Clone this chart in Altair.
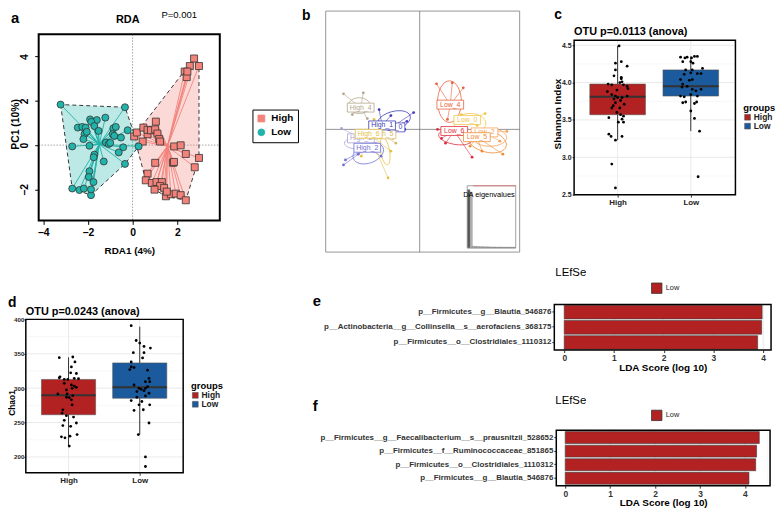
import math
import altair as alt
import pandas as pd

FONT = "Liberation Sans"
W, H = 776, 504


def P(v):
    """page pixel -> chart pixel (page has an 8px margin)"""
    return v - 8


ONE = pd.DataFrame({"k": [0]})
ZERO = pd.DataFrame({"v": [0.0]})

# ===================== DATA =====================
# --- panel a : RDA ---
a_groups = ["High", "Low"]
a_high_x = [2.75, 2.56, 2.97, 2.33, 2.42, 2.45, 0.07, 0.19, 0.48, 0.67, 0.67, 0.82, 1.01, 1.04, 1.11, 1.19, 1.23,
            0.45, 1.86, 2.15, 2.38, 2.97, 2.78, 1.01, 1.81, 1.85, 0.67, 0.59, 0.86, 1.07, 1.31, 1.23, 0.98, 1.41,
            1.49, 1.71, 1.93, 2.15, 2.38, 1.53]
a_high_y = [3.91, 3.57, 3.57, 3.32, 3.07, 3.32, 0.39, 0.57, 0.79, 0.49, 0.69, 0.67, 0.71, 1.06, 0.52, 0.27, 0.16,
            0.16, -0.06, -0.01, -0.40, -0.58, -1.00, -0.80, -0.80, -0.76, -1.29, -1.59, -1.71, -1.67, -1.67, -1.85,
            -2.01, -1.93, -2.31, -2.22, -2.19, -2.26, -2.49, -2.10]
a_low_x = [-3.22, -0.34, -0.22, 0.27, -0.34, -1.86, -2.38, -2.70, -2.18, -2.70, -2.45, -2.25, -2.10, -1.90, -1.60,
           -1.85, -1.22, -0.86, -0.75, -2.15, -2.20, -1.71, -1.52, -1.93, -1.71, -1.74, -1.29, -1.19, -1.07, -0.89,
           -0.82, -0.52, -0.42, -0.62, -1.93, -1.96, -1.75, -1.86, -1.00, -2.05]
a_low_y = [1.83, 1.71, 0.67, -0.06, -0.85, -2.26, -2.03, -1.96, -1.96, -0.06, 0.79, 0.82, 0.79, 1.16, 1.13, 1.05,
           1.24, 0.76, 0.82, 0.49, 0.27, 0.86, 0.64, -0.03, -0.43, -0.55, -0.74, 0.12, 0.05, 0.49, 0.42, 0.34,
           -0.10, -0.33, -1.18, -1.44, -1.67, -2.00, 0.10, 0.60]
a_cent_x = [1.56, -1.49]
a_cent_y = [-0.05, 0.04]
a_ticks_x = [-4, -2, 0, 2]
a_ticks_y = [-2, 0, 2, 4]

# --- panel b : DAPC scatter ---
b_groups = ["High_0", "High_1", "High_2", "High_3", "High_4", "High_5", "High_6",
            "Low_0", "Low_2", "Low_4", "Low_5", "Low_6"]
b_colors = ["#4a3fc0", "#3b3bb5", "#6f6fd6", "#aaa4dc", "#b3a68d", "#d6b868", "#e6c045",
            "#f0c64a", "#f5a35c", "#e8603b", "#ef8a33", "#e12d3b"]
b_lab_x = [-1.41, -1.88, -2.62, -2.94, -2.95, -1.86, -2.55, 2.38, 3.24, 1.53, 2.86, 1.73]
b_lab_y = [0.10, 0.20, -0.92, -0.45, 1.09, -0.25, -0.22, 0.47, -0.15, 1.24, -0.39, -0.08]
b_front = ["High_4", "High_1", "High_6", "High_2", "Low_4", "Low_6", "Low_5"]
b_pt_x = [
    [-0.30, -0.74, -0.64],
    [-2.03, -1.44, -2.28],
    [-3.81, -3.71, -1.93, -2.28, -3.07],
    [-3.91, -3.56, -2.18],
    [-3.81, -2.82, -2.62, -3.37],
    [-1.19, -2.18, -1.34],
    [-1.58, -2.92, -2.28, -1.44],
    [3.27, 2.87, 2.08],
    [4.36, 4.01],
    [0.84, 1.63, 2.18, 1.39],
    [4.16, 3.76, 3.12, 2.52],
    [1.09, 1.29, 2.62, 0.89],
]
b_pt_y = [
    [0.84, 0.00, 0.40],
    [0.99, 0.69, 0.00],
    [-1.78, -1.53, -1.34, -1.09, -1.24],
    [0.05, -0.59, -0.74],
    [1.78, 1.83, 0.54, 0.74],
    [-0.69, 0.35, -0.45],
    [-2.43, -1.34, 0.50, -1.09],
    [0.79, 0.20, 0.74],
    [-0.10, -0.59],
    [2.28, 2.33, 2.08, 0.50],
    [-1.24, 0.00, -1.09, -0.84],
    [-0.45, -0.69, -1.39, 0.00],
]
b_ell_groups = ["High_4", "High_1", "High_2", "High_3", "High_6", "High_5", "Low_4", "Low_0", "Low_5", "Low_6", "Low_2"]
b_ell_x = [-3.02, -1.29, -2.57, -3.07, -1.73, -1.93, 1.49, 2.52, 3.37, 1.78, 3.51]
b_ell_y = [1.19, 0.45, -1.19, -0.69, -1.09, 0.00, 1.39, 0.30, -0.59, -0.40, -0.40]
b_eig = [100, 96, 2.2, 2.0, 1.8, 1.6, 1.5, 1.4, 1.3, 1.2, 1.1, 1.0, 0.9, 0.9, 0.8, 0.8, 0.7, 0.7, 0.6, 0.6]

# --- panel c : Shannon ---
c_groups = ["High", "Low"]
c_q1 = [3.57, 3.82]
c_med = [3.81, 3.95]
c_q3 = [3.98, 4.17]
c_wlo = [3.23, 3.35]
c_whi = [4.49, 4.35]
c_high = [4.49, 4.26, 4.28, 4.22, 4.17, 4.09, 4.07, 4.05, 4.01, 4.00, 3.98, 3.97, 3.97, 3.95, 3.92, 3.88, 3.90,
          3.84, 3.82, 3.80, 3.78, 3.80, 3.82, 3.76, 3.73, 3.71, 3.69, 3.66, 3.66, 3.60, 3.57, 3.55, 3.53, 3.51,
          3.47, 3.47, 3.31, 3.28, 3.28, 3.23, 2.91, 2.59]
c_high_jit = [0.02, -0.03, 0.05, 0.13, -0.03, -0.05, 0.05, 0.05, 0.06, 0.03, -0.13, -0.08, 0.08, 0.13, 0.14, -0.14,
              -0.01, -0.08, -0.03, 0.00, -0.05, 0.06, 0.13, 0.04, -0.03, 0.09, -0.06, -0.08, 0.03, -0.01, 0.04,
              0.08, -0.12, 0.06, 0.08, 0.01, -0.12, -0.09, 0.06, -0.03, -0.08, -0.03]
c_low = [4.34, 4.33, 4.34, 4.33, 4.35, 4.35, 4.28, 4.28, 4.26, 4.17, 4.17, 4.19, 4.11, 4.13, 4.12, 4.12, 4.04, 4.03,
         4.04, 3.98, 3.94, 3.95, 3.91, 3.91, 3.89, 3.82, 3.81, 3.84, 3.82, 3.73, 3.74, 3.74, 3.72, 3.62, 3.52, 3.35,
         2.74]
c_low_jit = [-0.14, -0.08, -0.05, 0.01, 0.05, 0.09, -0.11, 0.00, 0.03, -0.07, 0.02, 0.16, -0.09, 0.00, 0.09, 0.14,
             -0.14, -0.02, 0.02, -0.11, -0.12, -0.05, 0.02, 0.14, 0.07, -0.14, -0.09, 0.00, 0.09, -0.11, -0.07,
             0.08, 0.05, 0.00, 0.05, 0.12, 0.10]
c_ticks = [2.5, 3.0, 3.5, 4.0, 4.5]
c_minor = [2.75, 3.25, 3.75, 4.25]

# --- panel d : Chao1 ---
d_groups = ["High", "Low"]
d_q1 = [261.4, 285.4]
d_med = [289.7, 301.2]
d_q3 = [312.7, 336.7]
d_wlo = [215.8, 232.6]
d_whi = [344.9, 389.4]
d_high = [344.4, 345.3, 338.1, 330.9, 322.3, 321.3, 315.1, 316.5, 312.7, 312.7, 314.1, 313.7, 307.0, 304.6, 303.1,
          301.2, 299.8, 297.4, 291.6, 291.6, 289.2, 286.3, 286.8, 283.0, 275.8, 268.5, 263.8, 260.0, 258.0, 253.2,
          249.4, 245.6, 244.6, 229.3, 227.8, 230.2, 232.6, 215.8]
d_high_jit = [-0.13, 0.06, 0.09, 0.04, 0.03, 0.11, -0.13, -0.12, -0.06, -0.01, 0.08, 0.14, -0.06, 0.04, 0.08, 0.11,
              0.05, -0.03, -0.02, -0.15, 0.06, 0.01, -0.03, 0.04, 0.05, -0.08, -0.09, -0.03, 0.07, -0.06, 0.11,
              -0.08, 0.03, -0.10, -0.05, 0.02, 0.12, 0.01]
d_low = [390.9, 369.3, 365.5, 360.7, 358.3, 351.6, 351.6, 343.9, 338.1, 330.9, 330.0, 327.1, 326.1, 304.6, 309.4,
         314.1, 309.4, 299.8, 298.3, 299.8, 302.2, 296.4, 295.0, 292.6, 288.7, 286.8, 282.0, 280.6, 275.8, 275.8,
         267.6, 268.6, 249.4, 232.6, 200.0, 186.1]
d_low_jit = [-0.12, -0.05, 0.00, 0.06, 0.15, -0.09, 0.06, 0.04, -0.12, -0.12, -0.08, -0.14, 0.11, -0.08, 0.08, 0.13,
             0.14, -0.01, 0.02, 0.08, 0.11, 0.06, -0.04, 0.13, 0.08, -0.04, -0.12, 0.03, -0.01, 0.14, -0.08, 0.05,
             0.13, -0.02, 0.08, 0.08]
d_ticks = [200, 250, 300, 350, 400]
d_minor = [225, 275, 325, 375]

# --- panels e / f : LEfSe ---
e_feat = ["p__Firmicutes__g__Blautia_546876",
          "p__Actinobacteria__g__Collinsella__s__aerofaciens_368175",
          "p__Firmicutes__o__Clostridiales_1110312"]
e_lda = [3.98, 3.97, 3.89]
f_feat = ["p__Firmicutes__g__Faecalibacterium__s__prausnitzii_528652",
          "p__Firmicutes__f__Ruminococcaceae_851865",
          "p__Firmicutes__o__Clostridiales_1110312",
          "p__Firmicutes__g__Blautia_546876"]
f_lda = [4.32, 4.26, 4.24, 4.09]
lda_ticks = [0, 1, 2, 3, 4]
lda_minor = [0.5, 1.5, 2.5, 3.5, 4.5]


# ===================== HELPERS =====================
def text_layer(s, x, y, size, weight="normal", align="left", color="black"):
    return alt.Chart(ONE).mark_text(text=s, align=align, baseline="alphabetic", font=FONT, fontSize=size,
                                    fontWeight=weight, color=color).encode(x=alt.value(P(x)), y=alt.value(P(y)))


def frame_layer(x0, y0, x1, y1, color="black", width=1.5):
    return alt.Chart(ONE).mark_rect(fillOpacity=0, stroke=color, strokeWidth=width).encode(
        x=alt.value(P(x0)), x2=alt.value(P(x1)), y=alt.value(P(y0)), y2=alt.value(P(y1)))


def hull(xs, ys):
    pts = sorted(set(zip(xs, ys)))

    def cross(o, a, b):
        return (a[0] - o[0]) * (b[1] - o[1]) - (a[1] - o[1]) * (b[0] - o[0])

    lower, upper = [], []
    for p in pts:
        while len(lower) >= 2 and cross(lower[-2], lower[-1], p) <= 0:
            lower.pop()
        lower.append(p)
    for p in reversed(pts):
        while len(upper) >= 2 and cross(upper[-2], upper[-1], p) <= 0:
            upper.pop()
        upper.append(p)
    return lower[:-1] + upper[:-1]


def ellipse_path(rx, ry, deg):
    t = math.radians(deg)
    sx, sy = rx * math.cos(t), rx * math.sin(t)
    return (f"M{-sx:.2f},{-sy:.2f}A{rx},{ry} {deg} 1,1 {sx:.2f},{sy:.2f}"
            f"A{rx},{ry} {deg} 1,1 {-sx:.2f},{-sy:.2f}Z")


# ===================== PANEL A =====================
a_xs = alt.Scale(domain=[-4.2, 3.9], range=[P(39), P(222)], nice=False, zero=False)
a_ys = alt.Scale(domain=[-3.4, 5.0], range=[P(220), P(32)], nice=False, zero=False)
a_col = alt.Scale(domain=a_groups, range=["#f2827a", "#22b3aa"])
a_shp = alt.Scale(domain=a_groups, range=["square", "circle"])
a_px = {"High": a_high_x, "Low": a_low_x}
a_py = {"High": a_high_y, "Low": a_low_y}
rows = []
for g, cx, cy in zip(a_groups, a_cent_x, a_cent_y):
    for x, y in zip(a_px[g], a_py[g]):
        rows.append({"group": g, "x": x, "y": y, "cx": cx, "cy": cy})
a_df = pd.DataFrame(rows)

A = []
A.append(alt.Chart(ZERO).mark_rule(color="#8a8a8a", strokeDash=[1.5, 1.5], strokeWidth=0.8).encode(
    x=alt.X("v:Q", scale=a_xs), y=alt.value(P(32)), y2=alt.value(P(220))))
A.append(alt.Chart(ZERO).mark_rule(color="#8a8a8a", strokeDash=[1.5, 1.5], strokeWidth=0.8).encode(
    y=alt.Y("v:Q", scale=a_ys), x=alt.value(P(39)), x2=alt.value(P(222))))
for g, fc in zip(a_groups, ["rgba(242,130,122,0.30)", "rgba(34,179,170,0.30)"]):
    hp = hull(a_px[g], a_py[g])
    hdf = pd.DataFrame({"i": list(range(len(hp))), "x": [p[0] for p in hp], "y": [p[1] for p in hp]})
    A.append(alt.Chart(hdf).mark_line(interpolate="linear-closed", fill=fc, stroke="#222", strokeDash=[4, 3],
                                      strokeWidth=0.9).encode(
        x=alt.X("x:Q", scale=a_xs), y=alt.Y("y:Q", scale=a_ys), order="i:Q"))
A.append(alt.Chart(a_df).mark_rule(strokeWidth=0.9).encode(
    x=alt.X("cx:Q", scale=a_xs), y=alt.Y("cy:Q", scale=a_ys), x2="x:Q", y2="y:Q",
    color=alt.Color("group:N", scale=a_col)))
a_leg = alt.Legend(title=None, orient="none", legendX=P(255), legendY=P(108), strokeColor="black", padding=4,
                   labelFontSize=10, labelFontWeight="bold", labelColor="black", symbolSize=48,
                   symbolStrokeColor="#333", symbolStrokeWidth=0.8, rowPadding=2, labelOffset=5)
A.append(alt.Chart(a_df).mark_point(filled=True, size=50, stroke="#333", strokeWidth=0.8, opacity=1).encode(
    x=alt.X("x:Q", scale=a_xs, axis=alt.Axis(
        orient="bottom", offset=P(220) - H, values=a_ticks_x, format="d", tickSize=4, tickColor="black",
        labelPadding=3, labelFontSize=10.5, labelFontWeight="bold", labelColor="black", domain=False,
        grid=False, title="RDA1 (4%)", titleFontSize=10, titleFontWeight="bold", titleColor="black",
        titleY=33, titleBaseline="alphabetic")),
    y=alt.Y("y:Q", scale=a_ys, axis=alt.Axis(
        orient="left", offset=-P(39), values=a_ticks_y, format="d", tickSize=4, tickColor="black",
        labelPadding=5, labelAngle=270, labelAlign="center", labelBaseline="bottom",
        labelFontSize=10.5, labelFontWeight="bold", labelColor="black", domain=False, grid=False,
        title="PC1 (10%)", titleFontSize=10.5, titleFontWeight="bold", titleColor="black",
        titleAngle=270, titleX=10.5 - P(39), titleY=P(122.5), titleBaseline="alphabetic", titleAlign="center")),
    color=alt.Color("group:N", scale=a_col, legend=a_leg),
    shape=alt.Shape("group:N", scale=a_shp, legend=a_leg)))
A.append(frame_layer(39, 32, 222, 220, "black", 2))
A.append(text_layer("a", 11, 21, 15, "bold"))
A.append(text_layer("RDA", 129, 21, 11, "bold", "center"))
A.append(text_layer("P=0.001", 181, 15.5, 9.6, "normal", "center"))
panel_a = alt.layer(*A)

# ===================== PANEL B =====================
bx = alt.Scale(domain=[-4.7, 5.0], range=[P(329), P(525)], nice=False, zero=False)
by = alt.Scale(domain=[-6.14, 5.92], range=[P(252), P(8.5)], nice=False, zero=False)
bcol = alt.Scale(domain=b_groups, range=b_colors)
rows = []
for g, lx, ly, pxs, pys in zip(b_groups, b_lab_x, b_lab_y, b_pt_x, b_pt_y):
    for x, y in zip(pxs, pys):
        rows.append({"g": g, "x": x, "y": y, "cx": lx, "cy": ly})
b_df = pd.DataFrame(rows)
lab_df = pd.DataFrame({"g": b_groups, "x": b_lab_x, "y": b_lab_y})
lab_back = lab_df[~lab_df.g.isin(b_front)]
lab_front = lab_df.set_index("g").loc[b_front].reset_index()
ell_style = [(11, 8, 0), (17, 9, -15), (16, 10, -20), (14, 6, 0), (14, 4.5, 80), (13, 5, -10),
             (21, 12, 90), (16, 10, 0), (20, 11, 15), (17, 7, 10), (17, 9, 0)]
ell_paths = [ellipse_path(*s) for s in ell_style]
ell_df = pd.DataFrame({"g": b_ell_groups, "x": b_ell_x, "y": b_ell_y})
BOX = "M-13.5,-4.5L13.5,-4.5L13.5,4.5L-13.5,4.5Z"

B = []
B.append(frame_layer(329, 8.5, 525, 252, "#8a8a8a", 0.9))
B.append(alt.Chart(ZERO).mark_rule(color="#777", strokeWidth=0.8).encode(
    x=alt.X("v:Q", scale=bx, axis=None), y=alt.value(P(8.5)), y2=alt.value(P(252))))
B.append(alt.Chart(ZERO).mark_rule(color="#777", strokeWidth=0.8).encode(
    y=alt.Y("v:Q", scale=by, axis=None), x=alt.value(P(329)), x2=alt.value(P(525))))
B.append(alt.Chart(ell_df).mark_point(filled=False, size=4, strokeWidth=0.8, opacity=1).encode(
    x=alt.X("x:Q", scale=bx, axis=None), y=alt.Y("y:Q", scale=by, axis=None),
    color=alt.Color("g:N", scale=bcol, legend=None),
    shape=alt.Shape("g:N", scale=alt.Scale(domain=b_ell_groups, range=ell_paths), legend=None)))
B.append(alt.Chart(b_df).mark_rule(strokeWidth=0.6).encode(
    x=alt.X("cx:Q", scale=bx, axis=None), y=alt.Y("cy:Q", scale=by, axis=None), x2="x:Q", y2="y:Q",
    color=alt.Color("g:N", scale=bcol, legend=None)))
B.append(alt.Chart(b_df).mark_circle(size=8, opacity=1).encode(
    x=alt.X("x:Q", scale=bx, axis=None), y=alt.Y("y:Q", scale=by, axis=None),
    color=alt.Color("g:N", scale=bcol, legend=None)))
for ldf in (lab_back, lab_front):
    B.append(alt.Chart(ldf).mark_point(shape=BOX, size=4, filled=True, fill="white", strokeWidth=0.8,
                                       opacity=1).encode(
        x=alt.X("x:Q", scale=bx, axis=None), y=alt.Y("y:Q", scale=by, axis=None),
        stroke=alt.Stroke("g:N", scale=bcol, legend=None)))
    B.append(alt.Chart(ldf).mark_text(font=FONT, fontSize=7, align="center", baseline="middle").encode(
        x=alt.X("x:Q", scale=bx, axis=None), y=alt.Y("y:Q", scale=by, axis=None), text="g:N",
        color=alt.Color("g:N", scale=bcol, legend=None)))
B.append(text_layer("b", 305, 17, 14, "bold"))
panel_b = alt.layer(*B)

# eigenvalue inset
eig_df = pd.DataFrame({"i": list(range(len(b_eig))), "val": b_eig})
ex = alt.Scale(domain=list(range(len(b_eig))), range=[P(472.5), P(520.5)], paddingInner=0.1, paddingOuter=0)
ey = alt.Scale(domain=[0, 100], range=[P(247.5), P(189)], nice=False, zero=True)
inset = alt.layer(
    frame_layer(472, 185, 521, 248, "#8a8a8a", 0.8),
    alt.Chart(ONE).mark_rule(color="#e06a6a", strokeWidth=0.8).encode(
        x=alt.value(P(478)), x2=alt.value(P(521)), y=alt.value(P(185))),
    alt.Chart(eig_df).mark_bar(stroke="#444", strokeWidth=0.3).encode(
        x=alt.X("i:O", scale=ex, axis=None), y=alt.Y("val:Q", scale=ey, axis=None),
        color=alt.condition("datum.i == 0", alt.value("#555555"), alt.value("#b8b8b8"))),
    text_layer("DA eigenvalues", 468, 196.5, 7.5),
)


# ===================== PANELS C / D =====================
BW = 0.38


def box_panel(groups, q1, med, q3, wlo, whi, vals, jits, x0, y0, x1, y1, xdom, ydom, yticks, minor, yfmt,
              ylabsize, ylabpad, title, title_base, ylab, ylabfs, ylab_x, ylab_y, leg_x, leg_y,
              letter, letter_x, letter_base):
    xs = alt.Scale(domain=xdom, range=[P(x0), P(x1)], nice=False, zero=False)
    ys = alt.Scale(domain=ydom, range=[P(y1), P(y0)], nice=False, zero=False)
    col = alt.Scale(domain=groups, range=["#b22222", "#1b5a9c"])
    pos = list(range(1, len(groups) + 1))
    bdf = pd.DataFrame({"group": groups, "pos": pos, "q1": q1, "med": med, "q3": q3, "wlo": wlo, "whi": whi})
    bdf["lo"] = bdf["pos"] - BW
    bdf["hi"] = bdf["pos"] + BW
    prow = []
    for g, p, vs, js in zip(groups, pos, vals, jits):
        for v, j in zip(vs, js):
            prow.append({"group": g, "val": v, "xj": p + j})
    pdf = pd.DataFrame(prow)
    label_expr = "[" + ",".join(f"'{g}'" for g in groups) + "][datum.value - 1]"
    L = []
    L.append(alt.Chart(pd.DataFrame({"v": minor})).mark_rule(color="#f3f3f3", strokeWidth=0.6).encode(
        y=alt.Y("v:Q", scale=ys), x=alt.value(P(x0)), x2=alt.value(P(x1))))
    L.append(alt.Chart(pd.DataFrame({"v": yticks})).mark_rule(color="#e4e4e4", strokeWidth=0.8).encode(
        y=alt.Y("v:Q", scale=ys), x=alt.value(P(x0)), x2=alt.value(P(x1))))
    L.append(alt.Chart(pd.DataFrame({"v": pos})).mark_rule(color="#e4e4e4", strokeWidth=0.8).encode(
        x=alt.X("v:Q", scale=xs), y=alt.value(P(y0)), y2=alt.value(P(y1))))
    L.append(alt.Chart(bdf).mark_rule(color="#333", strokeWidth=1).encode(
        x=alt.X("pos:Q", scale=xs), y=alt.Y("wlo:Q", scale=ys), y2="whi:Q"))
    leg = alt.Legend(title="groups", orient="none", legendX=P(leg_x), legendY=P(leg_y), padding=0,
                     titleFontSize=9.5, titleFontWeight="bold", titleColor="black", titlePadding=1,
                     labelFontSize=8.5, labelFontWeight="bold", labelColor="#222", symbolType="square",
                     symbolSize=34, symbolStrokeColor="#555", symbolStrokeWidth=0.6, rowPadding=0,
                     labelOffset=2)
    L.append(alt.Chart(bdf).mark_rect(stroke="#555", strokeWidth=0.6).encode(
        x=alt.X("lo:Q", scale=xs, axis=alt.Axis(
            orient="bottom", offset=P(y1) - H, values=pos, labelExpr=label_expr, tickSize=2.5,
            tickColor="#333", labelPadding=1.5, labelFontSize=8, labelFontWeight="bold", labelColor="#222",
            domain=False, grid=False, title=None)),
        x2="hi:Q",
        y=alt.Y("q1:Q", scale=ys, axis=alt.Axis(
            orient="left", offset=-P(x0), values=yticks, format=yfmt, tickSize=2, tickColor="#333",
            labelPadding=ylabpad, labelFontSize=ylabsize, labelFontWeight="bold", labelColor="#222",
            domain=False, grid=False, title=ylab, titleFontSize=ylabfs, titleFontWeight="bold",
            titleColor="black", titleAngle=270, titleX=P(ylab_x) - P(x0), titleY=P(ylab_y),
            titleBaseline="alphabetic", titleAlign="center")),
        y2="q3:Q",
        color=alt.Color("group:N", scale=col, legend=leg)))
    L.append(alt.Chart(bdf).mark_rule(color="#333", strokeWidth=2).encode(
        x=alt.X("lo:Q", scale=xs), x2="hi:Q", y=alt.Y("med:Q", scale=ys)))
    L.append(alt.Chart(pdf).mark_circle(size=8, color="black", opacity=1).encode(
        x=alt.X("xj:Q", scale=xs), y=alt.Y("val:Q", scale=ys)))
    L.append(frame_layer(x0, y0, x1, y1, "black", 1.5))
    L.append(text_layer(title, x0, title_base, 11, "bold"))
    L.append(text_layer(letter, letter_x, letter_base, 14, "bold"))
    return alt.layer(*L)


panel_c = box_panel(c_groups, c_q1, c_med, c_q3, c_wlo, c_whi, [c_high, c_low], [c_high_jit, c_low_jit],
                    580, 38, 743, 194, [0.405, 2.61], [2.5, 4.566], c_ticks, c_minor, ".1f", 7, 1,
                    "OTU p=0.0113 (anova)", 33, "Shannon Index", 10, 566.5, 112, 751, 101, "c", 560, 16)
panel_d = box_panel(d_groups, d_q1, d_med, d_q3, d_wlo, d_whi, [d_high, d_low], [d_high_jit, d_low_jit],
                    26, 320, 185, 475, [0.40, 2.61], [177, 400], d_ticks, d_minor, "d", 6.2, 0,
                    "OTU p=0.0243 (anova)", 316, "Chao1", 8.5, 15, 404, 193, 382, "d", 8, 307)


# ===================== PANELS E / F =====================
def lefse_panel(feats, lda, x0, y0, x1, y1, xdom, pin, pout, title_base, leg_y, head_base, letter, letter_base):
    xs = alt.Scale(domain=xdom, range=[P(x0), P(x1)], nice=False, zero=False)
    ys = alt.Scale(domain=feats, range=[P(y0), P(y1)], paddingInner=pin, paddingOuter=pout)
    df = pd.DataFrame({"feature": feats, "lda": lda, "cls": ["Low"] * len(feats)})
    L = []
    L.append(alt.Chart(pd.DataFrame({"v": lda_minor})).mark_rule(color="#f2f2f2", strokeWidth=0.6).encode(
        x=alt.X("v:Q", scale=xs), y=alt.value(P(y0)), y2=alt.value(P(y1))))
    L.append(alt.Chart(pd.DataFrame({"v": lda_ticks})).mark_rule(color="#e3e3e3", strokeWidth=0.8).encode(
        x=alt.X("v:Q", scale=xs), y=alt.value(P(y0)), y2=alt.value(P(y1))))
    leg = alt.Legend(title=None, orient="none", legendX=P(657.5), legendY=P(leg_y), padding=0,
                     symbolType="square", symbolSize=110, symbolStrokeColor="#333", symbolStrokeWidth=0.8,
                     labelFontSize=7.5, labelColor="#222", labelOffset=3)
    L.append(alt.Chart(df).mark_bar(stroke="#3a3a3a", strokeWidth=0.6).encode(
        x=alt.X("lda:Q", scale=xs, axis=alt.Axis(
            orient="bottom", offset=P(y1) - H, values=lda_ticks, format="d", tickSize=2.5, tickColor="#333",
            labelPadding=1, labelFontSize=8.5, labelFontWeight="bold", labelColor="#333", domain=False,
            grid=False, title="LDA Score (log 10)", titleFontSize=10, titleFontWeight="bold",
            titleColor="black", titleY=title_base - y1, titleBaseline="alphabetic")),
        y=alt.Y("feature:N", scale=ys, axis=alt.Axis(
            orient="left", offset=-P(x0), tickSize=2.5, tickColor="#333", labelPadding=1, labelFontSize=8,
            labelFontWeight="bold", labelColor="#333", labelLimit=600, domain=False, grid=False, title=None)),
        color=alt.Color("cls:N", scale=alt.Scale(domain=["Low"], range=["#b22222"]), legend=leg)))
    L.append(frame_layer(x0, y0, x1, y1, "black", 1.5))
    L.append(text_layer("LEfSe", 561, head_base, 11.5))
    L.append(text_layer(letter, 316, letter_base, 15, "bold"))
    return alt.layer(*L)


panel_e = lefse_panel(e_feat, e_lda, 560, 305, 779, 351, [-0.2, 4.16], 0.1, 0.05, 372, 282.5, 276, "e", 306)
panel_f = lefse_panel(f_feat, f_lda, 562, 432, 778, 488, [-0.2, 4.56], 0.12, 0.1, 508.5, 411, 405, "f", 413)

# ===================== COMPOSE =====================
chart = alt.layer(panel_a, panel_b, inset, panel_c, panel_d, panel_e, panel_f).resolve_scale(
    x="independent", y="independent", color="independent", shape="independent", stroke="independent"
).properties(
    width=W, height=H, padding=0, autosize=alt.AutoSizeParams(type="none")
).configure_view(strokeWidth=0).configure_axis(
    labelFont=FONT, titleFont=FONT
).configure_legend(labelFont=FONT, titleFont=FONT)

chart.save("out.html", embed_options={"renderer": "svg", "actions": False})
